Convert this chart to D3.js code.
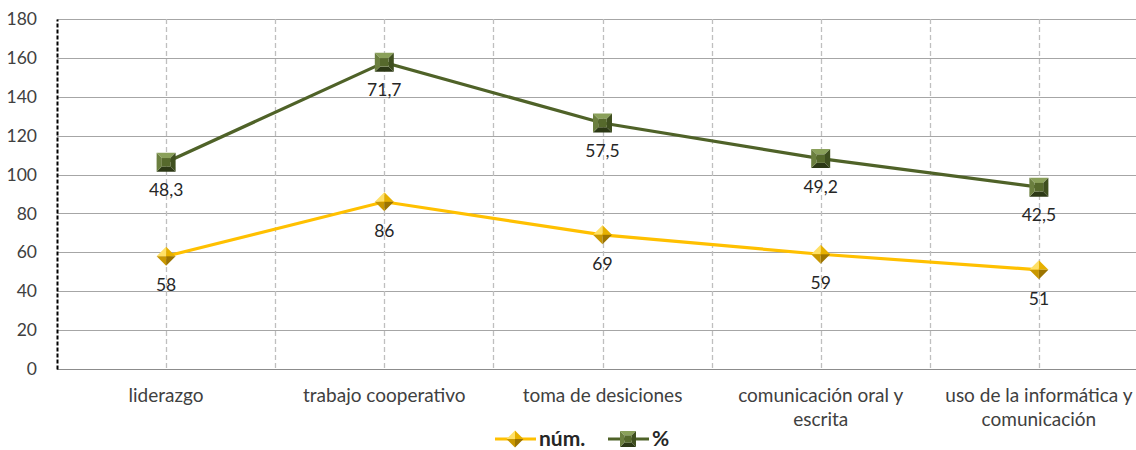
<!DOCTYPE html>
<html>
<head>
<meta charset="utf-8">
<script src="https://cdn.jsdelivr.net/npm/d3@7"></script>
<style>
  html, body { margin: 0; padding: 0; background: #fff; }
  svg { display: block; font-family: Lato, "Open Sans", sans-serif; }
</style>
</head>
<body>
<svg id="chart" width="1136" height="450"></svg>
<script>
// Competencias: número de respuestas y porcentaje (serie apilada)
const categories = [
  ["liderazgo"],
  ["trabajo cooperativo"],
  ["toma de desiciones"],
  ["comunicación oral y", "escrita"],
  ["uso de la informática y", "comunicación"]
];
const numValues = [58, 86, 69, 59, 51];
const pctValues = [48.3, 71.7, 57.5, 49.2, 42.5];
const yTicks = [0, 20, 40, 60, 80, 100, 120, 140, 160, 180];
const seriesNames = ["núm.", "%"];

(function () {
const svg = d3.select("#chart");
const W = 1136;
const mLeft = 57, mRight = 1148, mTop = 19, mBottom = 369;

const keys = categories.map(c => c.join(" "));
const x = d3.scaleBand().domain(keys).range([mLeft, mRight]);
const y = d3.scaleLinear().domain([0, 180]).range([mBottom, mTop]);

const textColor = "#404040";
const numColor = "#FFC000";
const pctColor = "#4F6228";

// stacked totals for the % line
const rows = keys.map((k, i) => ({ key: k, num: numValues[i], pct: pctValues[i] }));
const stacked = d3.stack().keys(["num", "pct"])(rows);

// horizontal grid
svg.append("g").selectAll("line").data(yTicks.filter(t => t > 0)).join("line")
  .attr("x1", mLeft).attr("x2", W)
  .attr("y1", d => Math.round(y(d)) + 0.5).attr("y2", d => Math.round(y(d)) + 0.5)
  .attr("stroke", "#a6a6a6").attr("stroke-width", 1);

// vertical dashed grid at category centres and boundaries
const vLines = [];
keys.forEach(k => {
  vLines.push(x(k) + x.bandwidth() / 2);
  vLines.push(x(k) + x.bandwidth());
});
svg.append("g").selectAll("line").data(vLines.filter(v => v < W)).join("line")
  .attr("x1", d => Math.round(d) + 0.5).attr("x2", d => Math.round(d) + 0.5)
  .attr("y1", mTop).attr("y2", mBottom)
  .attr("stroke", "#bfbfbf").attr("stroke-width", 1.3)
  .attr("stroke-dasharray", "5,3");

// baseline
svg.append("line").attr("x1", mLeft).attr("x2", W)
  .attr("y1", mBottom + 0.5).attr("y2", mBottom + 0.5)
  .attr("stroke", "#8c8c8c").attr("stroke-width", 1);

// y axis
const yAxis = d3.axisLeft(y).tickValues(yTicks).tickSize(0).tickPadding(20);
const gy = svg.append("g").attr("transform", `translate(${mLeft},0)`).call(yAxis);
gy.select(".domain").attr("stroke", "#000").attr("stroke-width", 2).attr("stroke-dasharray", "4,2");
gy.selectAll("text").attr("fill", textColor).style("font-size", "17.5px")
  .style("font-family", "Lato, 'Open Sans', sans-serif");

// category labels
const gx = svg.append("g");
categories.forEach((lines, i) => {
  const t = gx.append("text")
    .attr("x", x(keys[i]) + x.bandwidth() / 2)
    .attr("y", 402)
    .attr("text-anchor", "middle")
    .attr("fill", textColor)
    .style("font-size", "19px");
  lines.forEach((ln, j) => t.append("tspan")
    .attr("x", x(keys[i]) + x.bandwidth() / 2)
    .attr("dy", j === 0 ? 0 : 24)
    .text(ln));
});

const cx = k => x(k) + x.bandwidth() / 2;

// marker painters (bevelled pyramid look)
function diamond(g, px, py, s) {
  const r = s / 2;
  const faces = [
    { pts: [[px, py - r], [px - r, py], [px, py]], c: "#ffe066" },
    { pts: [[px, py - r], [px + r, py], [px, py]], c: "#e6b000" },
    { pts: [[px - r, py], [px, py + r], [px, py]], c: "#c99700" },
    { pts: [[px + r, py], [px, py + r], [px, py]], c: "#9c7400" }
  ];
  faces.forEach(f => g.append("polygon").attr("points", f.pts.map(p => p.join(",")).join(" ")).attr("fill", f.c));
}
function square(g, px, py, s) {
  const r = s / 2, ir = r * 0.45;
  const o = [[px - r, py - r], [px + r, py - r], [px + r, py + r], [px - r, py + r]];
  const inn = [[px - ir, py - ir], [px + ir, py - ir], [px + ir, py + ir], [px - ir, py + ir]];
  const cols = ["#8aa05a", "#3f4f1f", "#2c3815", "#6b7f3f"];
  for (let i = 0; i < 4; i++) {
    const j = (i + 1) % 4;
    g.append("polygon").attr("points", [o[i], o[j], inn[j], inn[i]].map(p => p.join(",")).join(" ")).attr("fill", cols[i]);
  }
  g.append("polygon").attr("points", inn.map(p => p.join(",")).join(" ")).attr("fill", "#56692c");
}

const line = d3.line().x(d => cx(d.data.key)).y(d => y(d[1]));

// % line (stacked on top of núm.)
svg.append("path").datum(stacked[1]).attr("d", line)
  .attr("fill", "none").attr("stroke", pctColor).attr("stroke-width", 3.2);
// núm. line
svg.append("path").datum(stacked[0]).attr("d", line)
  .attr("fill", "none").attr("stroke", numColor).attr("stroke-width", 3.2);

const mk = svg.append("g");
stacked[1].forEach(d => square(mk, cx(d.data.key), y(d[1]), 19));
stacked[0].forEach(d => diamond(mk, cx(d.data.key), y(d[1]), 19));

// data labels
const fmt = v => String(v).replace(".", ",");
const lbl = svg.append("g").attr("fill", "#262626").style("font-size", "17.5px").attr("text-anchor", "middle");
stacked[1].forEach((d, i) => lbl.append("text").attr("x", cx(d.data.key)).attr("y", y(d[1]) + 34).text(fmt(pctValues[i])));
stacked[0].forEach((d, i) => lbl.append("text").attr("x", cx(d.data.key)).attr("y", y(d[1]) + 35).text(fmt(numValues[i])));

// legend
const lg = svg.append("g");
const legendItems = [
  { name: seriesNames[0], color: numColor, x0: 495, draw: diamond },
  { name: seriesNames[1], color: pctColor, x0: 608, draw: square }
];
legendItems.forEach(it => {
  const ly = 439;
  lg.append("line").attr("x1", it.x0).attr("x2", it.x0 + 41).attr("y1", ly).attr("y2", ly)
    .attr("stroke", it.color).attr("stroke-width", 3.2);
  it.draw(lg, it.x0 + 20, ly, it.draw === square ? 16 : 17);
  lg.append("text").attr("x", it.x0 + 44).attr("y", 446)
    .attr("fill", "#262626").style("font-size", "21px").style("font-weight", "bold").text(it.name);
});
})();
</script>
</body>
</html>
